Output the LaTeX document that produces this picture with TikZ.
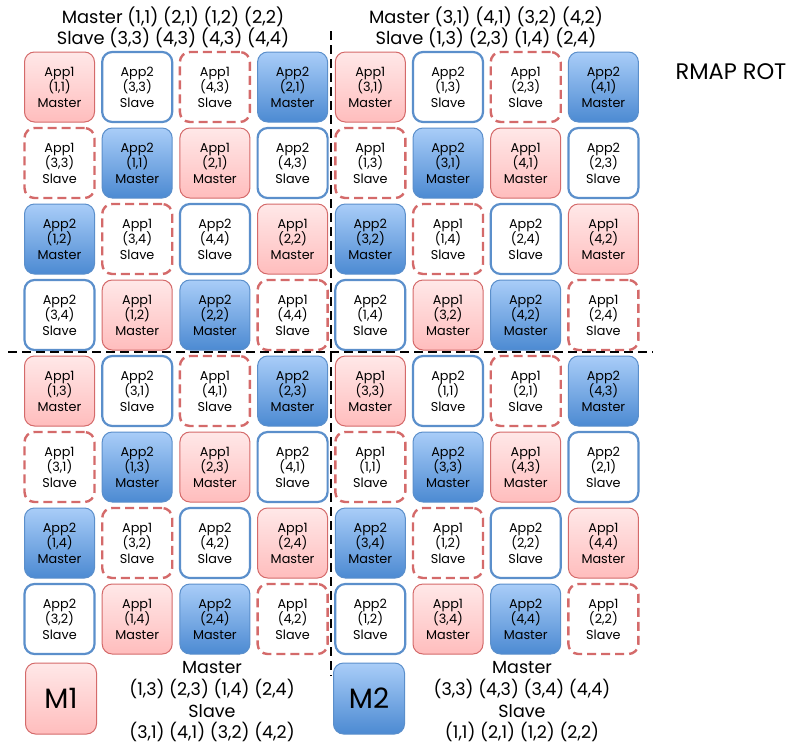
\documentclass[tikz,border=0pt]{standalone}
\usepackage{fontspec}
\setmainfont{Poppins}
\definecolor{pinkedge}{HTML}{D46A6A}
\definecolor{pinktop}{HTML}{FFE8E8}
\definecolor{pinkbot}{HTML}{FFBDBD}
\definecolor{blueedge}{HTML}{5B8FCB}
\definecolor{bluetop}{HTML}{A9CDF8}
\definecolor{bluebot}{HTML}{4C8AD2}
\def\appmA{App1}\def\rolemA{Master}
\def\appsA{App1}\def\rolesA{Slave}
\def\appmB{App2}\def\rolemB{Master}
\def\appsB{App2}\def\rolesB{Slave}
\begin{document}
\begin{tikzpicture}[x=1pt,y=-1pt,
  box/.style={rounded corners=10pt,minimum width=70pt,minimum height=70pt,inner sep=0pt,align=center,
    font=\fontsize{12.8}{15.5}\selectfont},
  mA/.style={box,draw=pinkedge,line width=1pt,top color=pinktop,bottom color=pinkbot},
  sA/.style={box,draw=pinkedge,line width=2.4pt,dash pattern=on 9pt off 5pt,fill=white},
  mB/.style={box,draw=blueedge,line width=1pt,top color=bluetop,bottom color=bluebot},
  sB/.style={box,draw=blueedge,line width=2.2pt,fill=white},
  sep/.style={draw=black,line width=2.8pt,dash pattern=on 9pt off 5pt},
  lab/.style={align=center,inner sep=0pt,font=\fontsize{17.8}{21}\selectfont},
  big/.style={box,minimum width=71pt,minimum height=71pt,font=\fontsize{28}{32}\selectfont}
]
\useasboundingbox (0,0) rectangle (795,747);
\foreach \r/\lst in {
 1/{mA/1/1,sB/3/3,sA/4/3,mB/2/1,mA/3/1,sB/1/3,sA/2/3,mB/4/1},
 2/{sA/3/3,mB/1/1,mA/2/1,sB/4/3,sA/1/3,mB/3/1,mA/4/1,sB/2/3},
 3/{mB/1/2,sA/3/4,sB/4/4,mA/2/2,mB/3/2,sA/1/4,sB/2/4,mA/4/2},
 4/{sB/3/4,mA/1/2,mB/2/2,sA/4/4,sB/1/4,mA/3/2,mB/4/2,sA/2/4},
 5/{mA/1/3,sB/3/1,sA/4/1,mB/2/3,mA/3/3,sB/1/1,sA/2/1,mB/4/3},
 6/{sA/3/1,mB/1/3,mA/2/3,sB/4/1,sA/1/1,mB/3/3,mA/4/3,sB/2/1},
 7/{mB/1/4,sA/3/2,sB/4/2,mA/2/4,mB/3/4,sA/1/2,sB/2/2,mA/4/4},
 8/{sB/3/2,mA/1/4,mB/2/4,sA/4/2,sB/1/2,mA/3/4,mB/4/4,sA/2/2}}{
  \foreach[count=\c] \t/\a/\b in \lst {
    \node[\t] (c\r-\c) at ({59.5+77.7*(\c-1)},{87+76*(\r-1)})
      {\csname app\t\endcsname\\(\a,\b)\\\csname role\t\endcsname};
  }
}
\coordinate (vtop) at (331,31);
\coordinate (vbot) at (331,676);
\coordinate (hl) at (8,352);
\coordinate (hr) at (653,352);
\draw[sep] (vtop) -- (vbot);
\draw[sep] (hl) -- (hr);
\node[lab] (tl) at (173,27.5) {Master (1,1) (2,1) (1,2) (2,2)\\Slave (3,3) (4,3) (4,3) (4,4)};
\node[lab] (tr) at (486,27.5) {Master (3,1) (4,1) (3,2) (4,2)\\Slave (1,3) (2,3) (1,4) (2,4)};
\node[lab,font=\fontsize{22.5}{26}\selectfont] (rmap) at (731,72) {RMAP ROT};
\node[mA,big] (m1) at (61,698.5) {M1};
\node[mB,big] (m2) at (369,698.5) {M2};
\node[lab,font=\fontsize{17.5}{21.7}\selectfont] (bl) at (212,702) {Master\\(1,3) (2,3) (1,4) (2,4)\\Slave\\(3,1) (4,1) (3,2) (4,2)};
\node[lab,font=\fontsize{17.5}{21.7}\selectfont] (br) at (522,702) {Master\\(3,3) (4,3) (3,4) (4,4)\\Slave\\(1,1) (2,1) (1,2) (2,2)};
\end{tikzpicture}
\end{document}
